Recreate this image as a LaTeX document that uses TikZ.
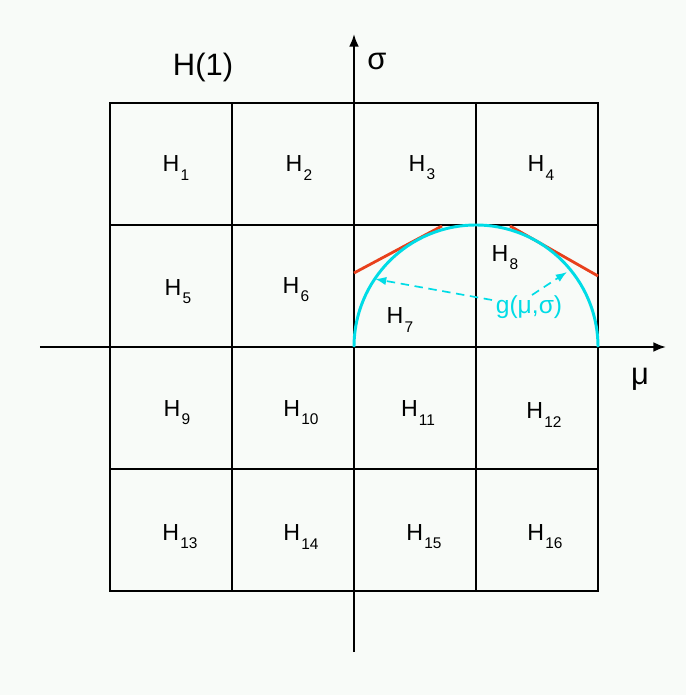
\documentclass[tikz,border=0pt]{standalone}
\usepackage{fontspec}
\setmainfont{Liberation Sans}
\usetikzlibrary{arrows.meta}
\definecolor{paper}{RGB}{248,251,248}
\definecolor{gcyan}{RGB}{0,220,230}
\definecolor{tred}{RGB}{232,64,28}
\newcommand{\Hsub}[1]{H\kern0.05em\raisebox{-0.35em}{\fontsize{11}{12}\selectfont #1}}
\begin{document}
\begin{tikzpicture}[
    x=0.025cm, y=0.025cm,
    >={Latex[length=9pt,width=7pt]},
    every node/.style={font=\fontsize{16.5}{20}\selectfont},
    big/.style={font=\fontsize{22}{26}\selectfont},
    cell/.style={inner sep=1pt},
    gridline/.style={line width=1.2pt},
    axis/.style={line width=1.4pt, ->},
    tangent/.style={tred, line width=2pt},
    curve/.style={gcyan, line width=2.1pt},
    pointer/.style={gcyan, dashed, line width=1.2pt, dash pattern=on 6pt off 4pt, ->, >={Latex[length=8pt,width=6pt]}}
  ]
  % background and page size
  \fill[paper] (-354,-348) rectangle (332,347);
  \useasboundingbox (-354,-348) rectangle (332,347);

  % Grid of cells
  \foreach \v in {-122,0,122} {
    \draw[gridline] (\v,-244) -- (\v,244);
    \draw[gridline] (-244,\v) -- (244,\v);
  }
  \draw[line width=1.8pt] (-244,-244) rectangle (244,244);

  % Axes
  \coordinate (xs) at (-314,0);
  \coordinate (xe) at (312,0);
  \coordinate (ys) at (0,-305);
  \coordinate (ye) at (0,313);
  \draw[axis] (xs) -- (xe);
  \draw[axis] (ys) -- (ye);
  \node[big] (mu) at (286,-32) {μ};
  \node[big] (sigma) at (23,286) {σ};
  \node[big] (title) at (-151,279) {H(1)};

  % Cell labels
  \node[cell] (h1)  at (-178,179) {\Hsub{1}};
  \node[cell] (h2)  at (-55,179)  {\Hsub{2}};
  \node[cell] (h3)  at (68,179)   {\Hsub{3}};
  \node[cell] (h4)  at (187,179)  {\Hsub{4}};
  \node[cell] (h5)  at (-176,55)  {\Hsub{5}};
  \node[cell] (h6)  at (-58,57)   {\Hsub{6}};
  \node[cell] (h7)  at (46,27)    {\Hsub{7}};
  \node[cell] (h8)  at (151,89)   {\Hsub{8}};
  \node[cell] (h9)  at (-177,-66) {\Hsub{9}};
  \node[cell] (h10) at (-53,-66)  {\Hsub{10}};
  \node[cell] (h11) at (64,-66)   {\Hsub{11}};
  \node[cell] (h12) at (190,-68)  {\Hsub{12}};
  \node[cell] (h13) at (-174,-190) {\Hsub{13}};
  \node[cell] (h14) at (-53,-190) {\Hsub{14}};
  \node[cell] (h15) at (70,-190)  {\Hsub{15}};
  \node[cell] (h16) at (191,-190) {\Hsub{16}};

  % Tangent lines
  \draw[tangent] (0,74) -- (88,121);
  \draw[tangent] (156,121) -- (244,71);

  % Semicircle g
  \draw[curve] (0,0) arc[start angle=180, end angle=0, radius=122];

  % Label and pointers
  \node[gcyan, font=\fontsize{17.5}{20}\selectfont] (g) at (175,40) {g(μ,σ)};
  \coordinate (gl) at (138,47);
  \coordinate (gr) at (178,52);
  \coordinate (al) at (21,68);
  \coordinate (ar) at (213,75);
  \draw[pointer] (gl) -- (al);
  \draw[pointer] (gr) -- (ar);
\end{tikzpicture}
\end{document}
